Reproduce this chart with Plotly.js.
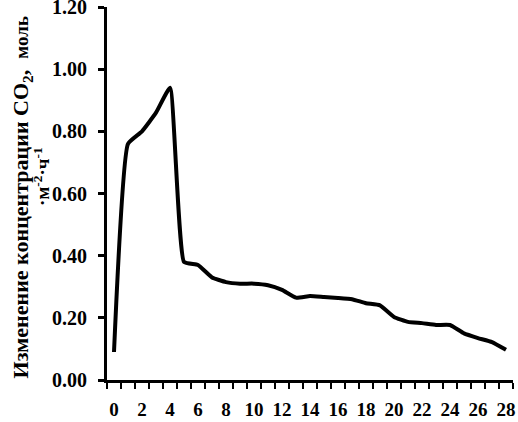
<!DOCTYPE html>
<html>
<head>
<meta charset="utf-8">
<script src="https://cdn.plot.ly/plotly-3.0.1.min.js"></script>
<style>
  html, body { margin: 0; padding: 0; background: #fff; }
  #chart { width: 518px; height: 422px; }
</style>
</head>
<body>
<div id="chart"></div>
<script>
// hours (categories) and CO2 change
const hours = [0,1,2,3,4,5,6,7,8,9,10,11,12,13,14,15,16,17,18,19,20,21,22,23,24,25,26,27,28];
const co2 = [0.09,0.76,0.80,0.86,0.94,0.38,0.37,0.33,0.315,0.31,0.31,0.305,0.29,0.265,0.27,0.267,0.264,0.26,0.247,0.24,0.203,0.187,0.183,0.177,0.177,0.15,0.135,0.122,0.097];
const yTicks = [0, 0.2, 0.4, 0.6, 0.8, 1.0, 1.2];

const serif = "Liberation Serif, Times New Roman, serif";

window.addEventListener('load', function() {
  const trace = {
    x: hours, y: co2, type: "scatter", mode: "lines",
    line: { color: "black", width: 4, shape: "spline", smoothing: 0.4 },
    hoverinfo: "skip"
  };

  const layout = {
    width: 518, height: 422,
    margin: { l: 107, r: 5, t: 7, b: 42 },
    paper_bgcolor: "white", plot_bgcolor: "white",
    showlegend: false,
    font: { family: serif, color: "black", size: 19, weight: "bold" },
    xaxis: {
      range: [-0.5, 28.5],
      tickmode: "linear", tick0: 0, dtick: 2,
      ticks: "", ticklabelstandoff: 10,
      showgrid: false, zeroline: false,
      showline: true, linecolor: "black", linewidth: 3,
      tickfont: { family: serif, size: 19, weight: "bold" },
      minor: { tickmode: "linear", tick0: -0.5, dtick: 1, ticks: "outside", ticklen: 6, tickwidth: 2, tickcolor: "black", showgrid: false }
    },
    yaxis: {
      range: [0, 1.2],
      tickmode: "array", tickvals: yTicks, ticktext: yTicks.map(v => v.toFixed(2)),
      ticks: "outside", ticklen: 6, tickwidth: 3, tickcolor: "black",
      ticklabelstandoff: 7, ticklabeloverflow: "allow",
      showgrid: false, zeroline: false,
      showline: true, linecolor: "black", linewidth: 3,
      tickfont: { family: serif, size: 20, weight: "bold" }
    },
    annotations: [{
      text: "Изменение концентрации CO<sub>2</sub>,  <span style='font-size:19px'>моль</span>",
      xref: "paper", yref: "paper", x: -0.209, y: 0.49,
      xanchor: "center", yanchor: "middle", textangle: -90,
      showarrow: false,
      font: { family: serif, size: 22, weight: "bold", color: "black" }
    }, {
      text: "·м<sup>-2</sup>·ч<sup>-1</sup>",
      xref: "paper", yref: "paper", x: -0.162, y: 0.545,
      xanchor: "center", yanchor: "middle", textangle: -90,
      showarrow: false,
      font: { family: serif, size: 19, weight: "bold", color: "black" }
    }]
  };

  Plotly.newPlot("chart", [trace], layout, { displayModeBar: false, staticPlot: true });
});
</script>
</body>
</html>
